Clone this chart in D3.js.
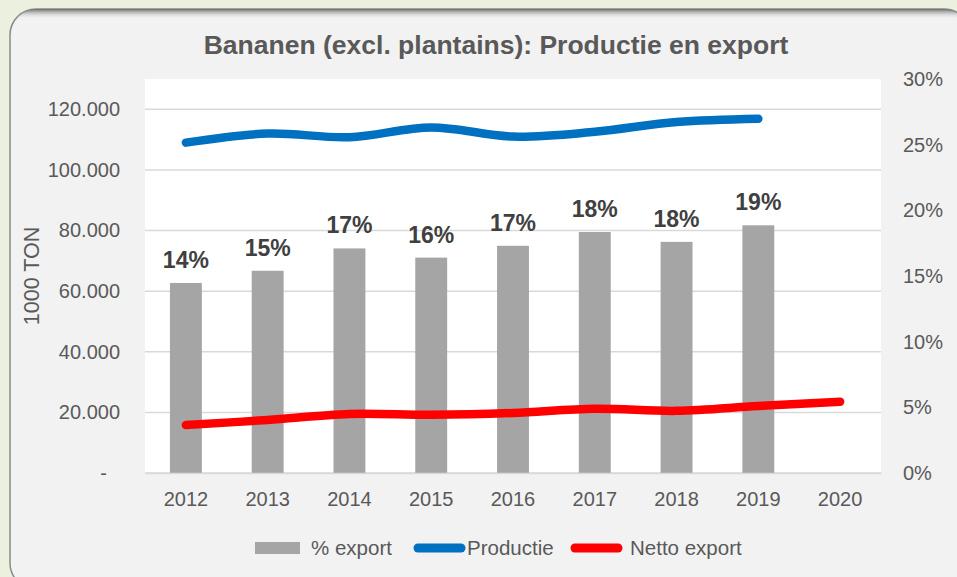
<!DOCTYPE html>
<html>
<head>
<meta charset="utf-8">
<script src="https://cdn.jsdelivr.net/npm/d3@7"></script>
<style>
  body { margin: 0; background: #ebf1de; }
  svg { display: block; font-family: "Liberation Sans", Arial, sans-serif; }
</style>
</head>
<body>
<svg></svg>
<script>
// chart data
const years = ["2012", "2013", "2014", "2015", "2016", "2017", "2018", "2019", "2020"];
const pctExport = [0.1447, 0.154, 0.171, 0.164, 0.173, 0.1835, 0.176, 0.1886, null];
const productie = [109000, 112000, 110800, 114000, 111000, 112600, 115800, 116900, null];
const nettoExport = [15800, 17500, 19500, 19200, 19800, 21200, 20500, 22100, 23500];
const leftTicks = [0, 20000, 40000, 60000, 80000, 100000, 120000];
const rightTicks = [0, 0.05, 0.1, 0.15, 0.2, 0.25, 0.3];

const width = 957;
const height = 577;
const plot = { left: 145, right: 881, top: 79, bottom: 473 };
const textColor = "#595959";
const svg = d3.select("svg").attr("width", width).attr("height", height);

// frame with rounded corners and a soft top shadow
const defs = svg.append("defs");
const grad = defs.append("linearGradient").attr("id", "topShade")
  .attr("x1", 0).attr("y1", 0).attr("x2", 0).attr("y2", 1);
grad.append("stop").attr("offset", "0%").attr("stop-color", "#6e6e6e");
grad.append("stop").attr("offset", "100%").attr("stop-color", "#f2f2f2").attr("stop-opacity", 0);
defs.append("clipPath").attr("id", "frameClip")
  .append("rect").attr("x", 10).attr("y", 9).attr("width", 960).attr("height", 580).attr("rx", 26);

svg.append("rect")
  .attr("x", 10).attr("y", 9).attr("width", 960).attr("height", 580).attr("rx", 26)
  .attr("fill", "#f2f2f2").attr("stroke", "#8a8a8a").attr("stroke-width", 1.5);
svg.append("rect")
  .attr("clip-path", "url(#frameClip)")
  .attr("x", 10).attr("y", 9).attr("width", 960).attr("height", 10)
  .attr("fill", "url(#topShade)");

// scales
const x = d3.scaleBand().domain(years)
  .range([plot.left, plot.right]).paddingInner(0.61).paddingOuter(0.305);
const yLeft = d3.scaleLinear().domain([0, 130000]).range([plot.bottom, plot.top]);
const yRight = d3.scaleLinear().domain([0, 0.3]).range([plot.bottom, plot.top]);
const cx = (d) => x(d) + x.bandwidth() / 2;

// plot area
svg.append("rect")
  .attr("x", plot.left).attr("y", plot.top)
  .attr("width", plot.right - plot.left).attr("height", plot.bottom - plot.top)
  .attr("fill", "#ffffff");

svg.append("g")
  .selectAll("line")
  .data(leftTicks)
  .enter()
  .append("line")
  .attr("x1", plot.left).attr("x2", plot.right)
  .attr("y1", (d) => yLeft(d)).attr("y2", (d) => yLeft(d))
  .attr("stroke", "#d9d9d9").attr("stroke-width", 1.5);

// bars (% export, right axis)
const barData = years.map((y, i) => ({ year: y, value: pctExport[i] })).filter((d) => d.value != null);
svg.append("g")
  .selectAll("rect")
  .data(barData)
  .enter()
  .append("rect")
  .attr("x", (d) => x(d.year))
  .attr("width", x.bandwidth())
  .attr("y", (d) => yRight(d.value))
  .attr("height", (d) => plot.bottom - yRight(d.value))
  .attr("fill", "#a5a5a5");

// data labels
svg.append("g")
  .selectAll("text")
  .data(barData)
  .enter()
  .append("text")
  .attr("x", (d) => cx(d.year))
  .attr("y", (d) => yRight(d.value) - 15)
  .attr("text-anchor", "middle")
  .attr("font-size", 23)
  .attr("font-weight", "bold")
  .attr("fill", "#404040")
  .text((d) => d3.format(".0%")(d.value));

// lines
const line = d3.line()
  .defined((d) => d.value != null)
  .x((d) => cx(d.year))
  .y((d) => yLeft(d.value))
  .curve(d3.curveCatmullRom.alpha(0.5));

svg.append("path")
  .datum(years.map((y, i) => ({ year: y, value: productie[i] })))
  .attr("d", line)
  .attr("fill", "none").attr("stroke", "#0070c0")
  .attr("stroke-width", 8.5).attr("stroke-linecap", "round").attr("stroke-linejoin", "round");

svg.append("path")
  .datum(years.map((y, i) => ({ year: y, value: nettoExport[i] })))
  .attr("d", line)
  .attr("fill", "none").attr("stroke", "#ff0000")
  .attr("stroke-width", 8.5).attr("stroke-linecap", "round").attr("stroke-linejoin", "round");

// axes
const leftAxis = d3.axisLeft(yLeft).tickValues(leftTicks).tickSize(0).tickPadding(25)
  .tickFormat((d) => (d === 0 ? "-" : d3.format(",")(d).replace(/,/g, ".")));
const gl = svg.append("g").attr("transform", "translate(" + plot.left + ",0)").call(leftAxis);
gl.select(".domain").remove();
gl.selectAll("text").attr("font-size", 20).attr("fill", textColor)
  .attr("font-family", "Liberation Sans, Arial, sans-serif")
  .attr("dx", (d) => (d === 0 ? -13 : 0));

const rightAxis = d3.axisRight(yRight).tickValues(rightTicks).tickSize(0).tickPadding(22)
  .tickFormat(d3.format(".0%"));
const gr = svg.append("g").attr("transform", "translate(" + plot.right + ",0)").call(rightAxis);
gr.select(".domain").remove();
gr.selectAll("text").attr("font-size", 20).attr("fill", textColor)
  .attr("font-family", "Liberation Sans, Arial, sans-serif");

const bottomAxis = d3.axisBottom(x).tickSize(0).tickPadding(19);
const gb = svg.append("g").attr("transform", "translate(0," + plot.bottom + ")").call(bottomAxis);
gb.select(".domain").attr("stroke", "#d9d9d9").attr("stroke-width", 1.5);
gb.selectAll("text").attr("font-size", 20).attr("fill", textColor)
  .attr("font-family", "Liberation Sans, Arial, sans-serif");

// titles
svg.append("text")
  .attr("x", 496).attr("y", 54)
  .attr("text-anchor", "middle")
  .attr("font-size", 26.5).attr("font-weight", "bold").attr("fill", textColor)
  .text("Bananen (excl. plantains): Productie en export");

svg.append("text")
  .attr("transform", "translate(39,276) rotate(-90)")
  .attr("text-anchor", "middle")
  .attr("font-size", 21.5).attr("fill", textColor)
  .text("1000 TON");

// legend
const legend = svg.append("g").attr("font-size", 20.5).attr("fill", textColor);
legend.append("rect").attr("x", 255).attr("y", 542).attr("width", 45).attr("height", 12).attr("fill", "#a5a5a5");
legend.append("text").attr("x", 311).attr("y", 555).text("% export");
legend.append("line").attr("x1", 418).attr("x2", 461).attr("y1", 548).attr("y2", 548)
  .attr("stroke", "#0070c0").attr("stroke-width", 9).attr("stroke-linecap", "round");
legend.append("text").attr("x", 467).attr("y", 555).text("Productie");
legend.append("line").attr("x1", 575).attr("x2", 618).attr("y1", 548).attr("y2", 548)
  .attr("stroke", "#ff0000").attr("stroke-width", 9).attr("stroke-linecap", "round");
legend.append("text").attr("x", 630).attr("y", 555).text("Netto export");
</script>
</body>
</html>
